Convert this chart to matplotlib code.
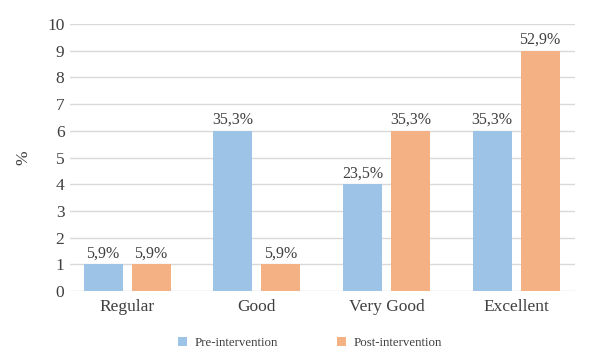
import matplotlib.pyplot as plt
import numpy as np

# Data
categories = ['Regular', 'Good', 'Very Good', 'Excellent']
pre_values = [1, 6, 4, 6]
post_values = [1, 1, 6, 9]
pre_labels = ['5,9%', '35,3%', '23,5%', '35,3%']
post_labels = ['5,9%', '5,9%', '35,3%', '52,9%']

plt.rcParams['font.family'] = ['Liberation Serif', 'DejaVu Serif']

fig = plt.figure(figsize=(6.02, 3.6), dpi=100)
ax = fig.add_axes([70 / 602, 69 / 360, 505 / 602, 267 / 360])

x = np.arange(len(categories))
w = 0.30
off = 0.185
b1 = ax.bar(x - off, pre_values, w, color='#9DC3E6', label='Pre-intervention', zorder=3)
b2 = ax.bar(x + off, post_values, w, color='#F4B183', label='Post-intervention', zorder=3)

for bars, labs in ((b1, pre_labels), (b2, post_labels)):
    for b, t in zip(bars, labs):
        ax.text(b.get_x() + b.get_width() / 2, b.get_height() + 0.1, t,
                ha='center', va='bottom', fontsize=11.5, color='#404040')

ax.set_xlim(-0.44, 3.454)
ax.set_ylim(0, 10)
ax.set_yticks(range(0, 11))
ax.set_xticks(x)
ax.set_xticklabels(categories, fontsize=12.5, color='#404040')
ax.tick_params(axis='y', labelsize=12.5, labelcolor='#404040', length=0, pad=4)
ax.tick_params(axis='x', length=0, pad=6)
ax.grid(axis='y', color='#D9D9D9', linewidth=1, zorder=0)
for s in ax.spines.values():
    s.set_visible(False)
ax.set_ylabel('%', fontsize=12.5, color='#404040', labelpad=11)

fig.legend(handles=[b1, b2], loc='center', bbox_to_anchor=(310 / 602, 17 / 360),
           ncol=2, frameon=False, fontsize=9.3, handlelength=0.7, handleheight=0.7,
           columnspacing=4.5, handletextpad=0.6, labelcolor='#404040')

fig.savefig('out.png', dpi=100)
